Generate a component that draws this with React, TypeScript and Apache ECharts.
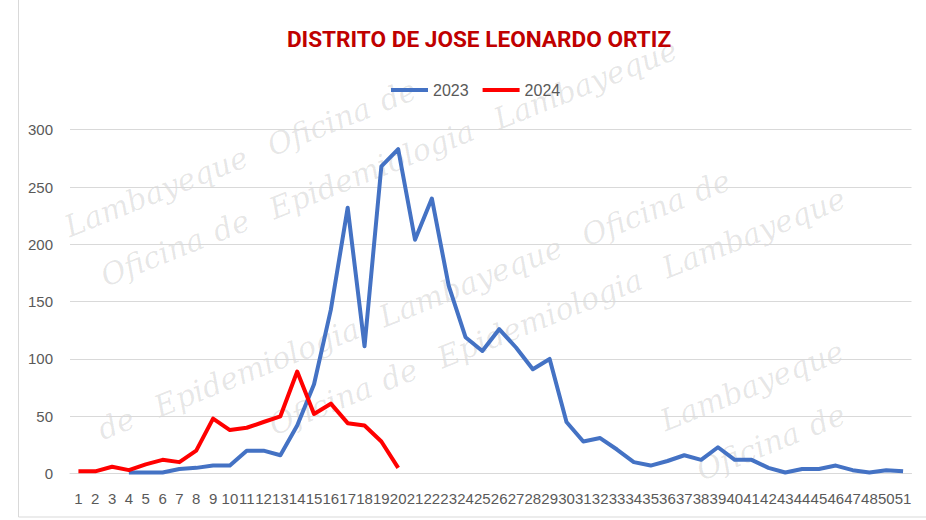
import React, { useEffect, useRef } from "react";
import * as echarts from "echarts";

const chartTitle = "DISTRITO DE JOSE LEONARDO ORTIZ";
const seriesNames = ["2023", "2024"];
const weeks = [
  "1", "2", "3", "4", "5", "6", "7", "8", "9", "10",
  "11", "12", "13", "14", "15", "16", "17", "18", "19", "20",
  "21", "22", "23", "24", "25", "26", "27", "28", "29", "30",
  "31", "32", "33", "34", "35", "36", "37", "38", "39", "40",
  "41", "42", "43", "44", "45", "46", "47", "48", "50", "51",
];
const cases2023: (number | null)[] = [
  null, null, null, 1, 1, 1, 4, 5, 7, 7,
  20, 20, 16, 42, 78, 143, 232, 111, 268, 283,
  204, 240, 164, 119, 107, 126, 110, 91, 100, 45,
  28, 31, 21, 10, 7, 11, 16, 12, 23, 12,
  12, 5, 1, 4, 4, 7, 3, 1, 3, 2,
];
const cases2024: number[] = [
  2, 2, 6, 3, 8, 12, 10, 20, 48, 38,
  40, 45, 50, 89, 52, 61, 44, 42, 28, 5,
];
const yTicks = { min: 0, max: 300, interval: 50 };
const watermarkWords = ["Epidemiologia", "Lambayeque", "Oficina", "de"];

function buildWatermark() {
  const W = 926;
  const H = 520;
  const theta = 0.38;
  const size = 30;
  const font = `italic ${size}px 'DejaVu Serif'`;
  const ctx = document.createElement("canvas").getContext("2d");
  if (ctx) ctx.font = font;
  const measure = (t: string) => (ctx ? ctx.measureText(t).width : t.length * size * 0.55);
  const d = [Math.cos(theta), -Math.sin(theta)];
  const n = [-Math.sin(theta), -Math.cos(theta)];
  const h = size * 1.2;
  const out: any[] = [];
  for (let r = 0; r < 12; r++) {
    const ox = -320 + (r % 2) * 110;
    const oy = 30 + r * 108;
    let s = 0;
    let k = r % 4;
    while (s < 1600) {
      const word = watermarkWords[k % watermarkWords.length];
      const w = measure(word);
      const px = ox + s * d[0];
      const py = oy + s * d[1];
      const corners = [
        [px, py],
        [px + w * d[0], py + w * d[1]],
        [px + h * n[0], py + h * n[1]],
        [px + w * d[0] + h * n[0], py + w * d[1] + h * n[1]],
      ];
      const inside = corners.every(([cx, cy]) => cx >= 1 && cx <= W - 1 && cy >= 1 && cy <= H - 1);
      if (inside) {
        out.push({
          type: "text",
          x: px,
          y: py,
          rotation: theta,
          z: 0,
          silent: true,
          style: {
            text: word,
            fill: "rgba(0,0,0,0.10)",
            font,
            verticalAlign: "bottom",
          },
        });
      }
      s += w + (word === "Oficina" ? 12 : 24);
      k++;
    }
  }
  return out;
}

export default function App() {
  const ref = useRef<HTMLDivElement>(null);

  useEffect(() => {
    if (!ref.current) return;
    const chart = echarts.init(ref.current, undefined, { renderer: "svg" });

    chart.setOption({
      animation: false,
      backgroundColor: "#ffffff",
      title: {
        text: chartTitle,
        left: 474,
        top: 23,
        textAlign: "center",
        textStyle: {
          color: "#C00000",
          fontSize: 22.6,
          fontWeight: "bold",
          fontFamily: "Roboto",
        },
      },
      legend: {
        data: seriesNames,
        left: 386,
        top: 77,
        itemWidth: 37,
        itemHeight: 4,
        itemGap: 14,
        icon: "rect",
        textStyle: {
          color: "#595959",
          fontSize: 16,
          fontFamily: "Liberation Sans",
        },
      },
      grid: {
        left: 70,
        right: 14.5,
        top: 129.7,
        bottom: 46.4,
        containLabel: false,
      },
      xAxis: {
        type: "category",
        data: weeks,
        boundaryGap: true,
        axisLine: { show: true, lineStyle: { color: "#D9D9D9", width: 1 } },
        axisTick: { show: false },
        axisLabel: {
          interval: 0,
          color: "#595959",
          fontSize: 15,
          fontFamily: "Liberation Sans",
          margin: 17,
        },
        splitLine: { show: false },
      },
      yAxis: {
        type: "value",
        min: yTicks.min,
        max: yTicks.max,
        interval: yTicks.interval,
        axisLine: { show: false },
        axisTick: { show: false },
        axisLabel: {
          color: "#595959",
          fontSize: 15,
          fontFamily: "Liberation Sans",
          margin: 17,
        },
        splitLine: { show: true, lineStyle: { color: "#D9D9D9", width: 1 } },
      },
      graphic: [
        ...buildWatermark(),
        {
          type: "rect",
          silent: true,
          z: 0,
          shape: { x: 18.5, y: -10, width: 940, height: 527 },
          style: { fill: "none", stroke: "#D9D9D9", lineWidth: 1 },
        },
      ],
      series: [
        {
          name: seriesNames[0],
          type: "line",
          data: cases2023,
          symbol: "none",
          connectNulls: false,
          z: 3,
          lineStyle: { color: "#4472C4", width: 4, join: "round" },
          itemStyle: { color: "#4472C4" },
        },
        {
          name: seriesNames[1],
          type: "line",
          data: cases2024,
          symbol: "none",
          z: 4,
          lineStyle: { color: "#FF0000", width: 4, join: "round" },
          itemStyle: { color: "#FF0000" },
        },
      ],
    });

    return () => chart.dispose();
  }, []);

  return (
    <div
      ref={ref}
      style={{
        position: "fixed",
        left: 0,
        top: 0,
        width: 926,
        height: 520,
        background: "#ffffff",
      }}
    />
  );
}
